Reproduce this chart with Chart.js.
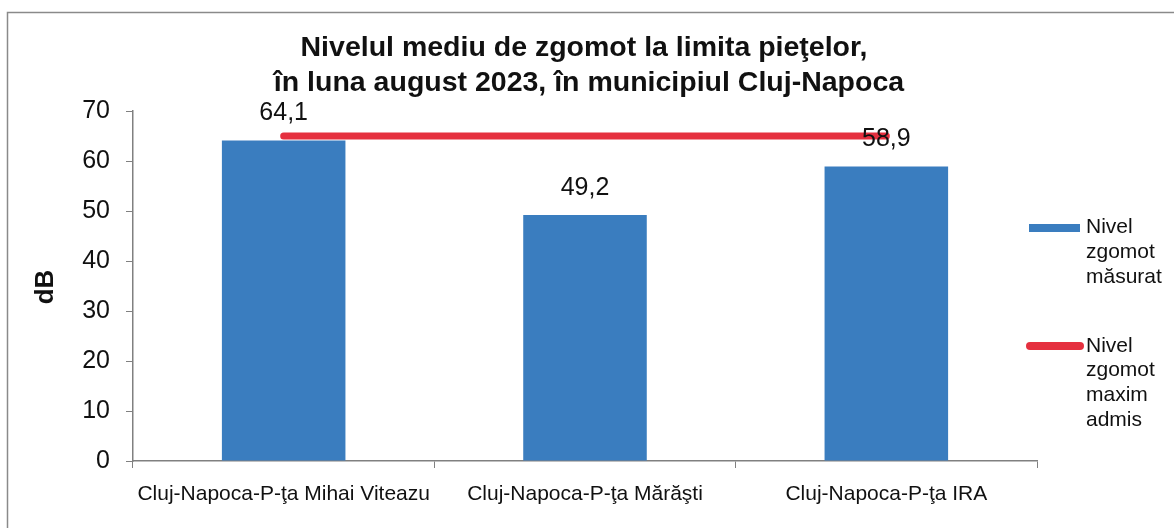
<!DOCTYPE html>
<html>
<head>
<meta charset="utf-8">
<script src="https://cdn.jsdelivr.net/npm/chart.js@4.4.1/dist/chart.umd.min.js"></script>
<style>
  html, body { margin: 0; padding: 0; background: #fff; }
  #wrap { width: 1174px; height: 528px; }
</style>
</head>
<body>
<div id="wrap"><canvas id="zgomotChart"></canvas></div>
<script>
const piete = ['Cluj-Napoca-P-ţa Mihai Viteazu', 'Cluj-Napoca-P-ţa Mărăşti', 'Cluj-Napoca-P-ţa IRA'];
const nivelMasurat = [64.1, 49.2, 58.9];
const nivelMaxim = [65, 65, 65];
const titlu = ['Nivelul mediu de zgomot la limita pieţelor,', 'în luna august 2023, în municipiul Cluj-Napoca'];

const ALBASTRU = '#3a7dbf';
const ROSU = '#e5303f';
const FONT = '"Liberation Sans", Arial, sans-serif';

// titlu, eticheta dB, valori deasupra barelor, legenda si chenarul
const decor = {
  id: 'decor',
  afterDraw(chart) {
    const c = chart.ctx;
    c.save();

    c.strokeStyle = '#8a8a8a';
    c.lineWidth = 1.5;
    c.beginPath();
    c.moveTo(7.5, 528);
    c.lineTo(7.5, 12.5);
    c.lineTo(1174, 12.5);
    c.stroke();

    c.fillStyle = '#111';
    c.textAlign = 'center';
    c.textBaseline = 'middle';
    c.font = 'bold 28.5px ' + FONT;
    c.fillText(titlu[0], 584, 48);
    c.fillText(titlu[1], 589, 83);

    c.save();
    c.translate(46, 287);
    c.rotate(-Math.PI / 2);
    c.font = 'bold 26px ' + FONT;
    c.fillText('dB', 0, 0);
    c.restore();

    const iBare = chart.data.datasets.findIndex(d => d.type === 'bar');
    const iLinie = chart.data.datasets.findIndex(d => d.type === 'line');

    // valorile masurate
    const meta = chart.getDatasetMeta(iBare);
    c.font = '25px ' + FONT;
    meta.data.forEach((bar, i) => {
      c.fillText(nivelMasurat[i].toFixed(1).replace('.', ','), bar.x, bar.y - 27);
    });

    // legenda
    c.textAlign = 'left';
    c.font = '21px ' + FONT;
    const ds = chart.data.datasets;
    c.fillStyle = ALBASTRU;
    c.fillRect(1029, 224, 51, 8);
    c.fillStyle = '#111';
    ds[iBare].label.split(' ').forEach((w, i) => c.fillText(w, 1086, 227 + i * 25));

    c.strokeStyle = ROSU;
    c.lineWidth = 8;
    c.lineCap = 'round';
    c.beginPath();
    c.moveTo(1030, 346);
    c.lineTo(1080, 346);
    c.stroke();
    ds[iLinie].label.split(' ').forEach((w, i) => c.fillText(w, 1086, 346 + i * 24.7));

    c.restore();
  }
};

new Chart(document.getElementById('zgomotChart'), {
  data: {
    labels: piete,
    datasets: [
      {
        type: 'line',
        label: 'Nivel zgomot maxim admis',
        data: nivelMaxim,
        borderColor: ROSU,
        borderWidth: 7,
        borderCapStyle: 'round',
        pointRadius: 0,
        order: 0
      },
      {
        type: 'bar',
        label: 'Nivel zgomot măsurat',
        data: nivelMasurat,
        backgroundColor: ALBASTRU,
        categoryPercentage: 1,
        barPercentage: 0.41,
        order: 1
      }
    ]
  },
  options: {
    responsive: true,
    maintainAspectRatio: false,
    animation: false,
    layout: { padding: { left: 0, right: 137, top: 111, bottom: 0 } },
    plugins: {
      legend: { display: false },
      title: { display: false },
      tooltip: { enabled: false }
    },
    scales: {
      x: {
        grid: { drawOnChartArea: false, drawTicks: true, tickLength: 7, color: '#808080' },
        border: { color: '#808080', width: 1.5 },
        ticks: { color: '#111', font: { family: FONT, size: 21 }, padding: 14, maxRotation: 0 },
        afterFit(scale) { scale.height = 67; }
      },
      y: {
        min: 0,
        max: 70,
        grid: { drawOnChartArea: false, drawTicks: true, tickLength: 7, color: '#808080' },
        border: { color: '#808080', width: 1.5 },
        ticks: { stepSize: 10, color: '#111', font: { family: FONT, size: 25 }, padding: 16 },
        afterFit(scale) { scale.width = 133; }
      }
    }
  },
  plugins: [decor]
});
</script>
</body>
</html>
